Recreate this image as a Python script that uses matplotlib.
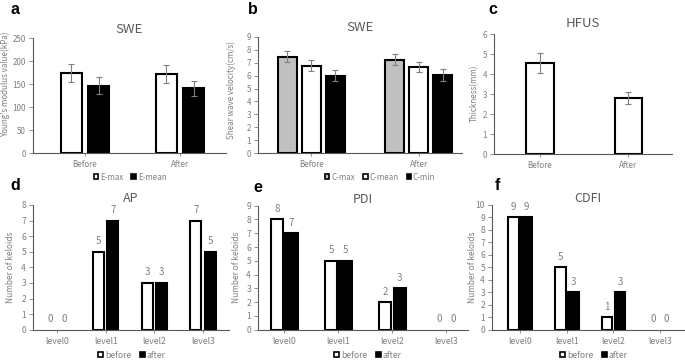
import numpy as np
import matplotlib
matplotlib.use('Agg')
import matplotlib.pyplot as plt
from matplotlib.patches import Patch

plt.rcParams['font.family'] = ['Noto Sans CJK SC', 'DejaVu Sans']

# dati
groups = ['Before', 'After']
e_max = [175, 172]
e_max_err = [20, 19]
e_mean = [147, 141]
e_mean_err = [19, 16]

c_max = [7.45, 7.22]
c_max_err = [0.43, 0.42]
c_mean = [6.76, 6.64]
c_mean_err = [0.44, 0.40]
c_min = [5.98, 6.03]
c_min_err = [0.43, 0.48]

thick = [4.58, 2.81]
thick_err = [0.5, 0.32]

levels = ['level0', 'level1', 'level2', 'level3']
ap_before = [0, 5, 3, 7]
ap_after = [0, 7, 3, 5]
pdi_before = [8, 5, 2, 0]
pdi_after = [7, 5, 3, 0]
cdfi_before = [9, 5, 1, 0]
cdfi_after = [9, 3, 3, 0]

W, H = 685, 362
TXT = '#7f7f7f'
TIT = '#595959'
AX = '#595959'
GRAY = '#c0c0c0'


def rect(l, r, t, b):
    return [l / W, 1 - b / H, (r - l) / W, (b - t) / H]


def style(ax, ymax, ystep, fs):
    ax.set_ylim(0, ymax)
    ax.set_yticks(np.arange(0, ymax + ystep / 2, ystep))
    for s in ['top', 'right']:
        ax.spines[s].set_visible(False)
    for s in ['left', 'bottom']:
        ax.spines[s].set_color(AX)
        ax.spines[s].set_linewidth(0.8)
    ax.tick_params(axis='y', colors=TXT, labelsize=fs, length=3, width=0.6, pad=2)
    ax.tick_params(axis='x', colors=TXT, labelsize=fs, length=2, width=0.6, pad=3)


def ebar(ax, x, y, err):
    ax.errorbar(x, y, yerr=err, fmt='none', ecolor='#808080', elinewidth=0.8,
                capsize=2, capthick=0.8)


def legenda(ax, items, cx, cy, fs, ncol):
    handles = [Patch(facecolor=c, edgecolor='black', linewidth=1.2, label=l) for l, c in items]
    ax.legend(handles=handles, loc='center', bbox_to_anchor=(cx / W, 1 - cy / H),
              bbox_transform=fig.transFigure, ncol=ncol, frameon=False, fontsize=fs,
              labelcolor=TXT, handlelength=0.6, handleheight=0.6, handletextpad=0.2,
              columnspacing=1.0)


fig = plt.figure(figsize=(W / 100, H / 100), dpi=100)
bar_kw = dict(edgecolor='black', linewidth=1.5)

# a
ax = fig.add_axes(rect(33, 226, 38.3, 153.3))
x = np.arange(len(groups))
w = 0.226
ax.bar(x - 0.144, e_max, w, color='white', **bar_kw)
ax.bar(x + 0.144, e_mean, w, color='black', **bar_kw)
ebar(ax, x - 0.144, e_max, e_max_err)
ebar(ax, x + 0.144, e_mean, e_mean_err)
ax.set_xlim(-0.547, 1.484)
ax.set_xticks(x, groups)
style(ax, 250, 50, 5.8)
ax.set_title('SWE', color=TIT, fontsize=9.5, pad=4)
ax.set_ylabel("Young's modulus value(kPa)", color=TXT, fontsize=5.8)
ax.yaxis.set_label_coords((10 - 33) / 193, 0.6)
legenda(ax, [('E-max', 'white'), ('E-mean', 'black')], 130, 177, 5.8, 2)

# b
ax = fig.add_axes(rect(258, 462, 36.7, 153.3))
w = 0.177
ax.bar(x - 0.225, c_max, w, color=GRAY, **bar_kw)
ax.bar(x, c_mean, w, color='white', **bar_kw)
ax.bar(x + 0.225, c_min, w, color='black', **bar_kw)
ebar(ax, x - 0.225, c_max, c_max_err)
ebar(ax, x, c_mean, c_mean_err)
ebar(ax, x + 0.225, c_min, c_min_err)
ax.set_xlim(-0.495, 1.403)
ax.set_xticks(x, groups)
style(ax, 9, 1, 5.8)
ax.set_title('SWE', color=TIT, fontsize=9.5, pad=4)
ax.set_ylabel('Shear wave velocity(cm/s)', color=TXT, fontsize=5.8)
ax.yaxis.set_label_coords((236 - 258) / 204, 0.54)
legenda(ax, [('C-max', GRAY), ('C-mean', 'white'), ('C-min', 'black')], 380, 177, 5.8, 3)

# c
ax = fig.add_axes(rect(494, 672, 34.3, 154))
ax.bar(x, thick, 0.31, color='white', **bar_kw)
ebar(ax, x, thick, thick_err)
ax.set_xlim(-0.52, 1.494)
ax.set_xticks(x, groups)
style(ax, 6, 1, 5.8)
ax.set_title('HFUS', color=TIT, fontsize=9.5, pad=5)
ax.set_ylabel('Thickness(mm)', color=TXT, fontsize=5.8)
ax.yaxis.set_label_coords((479 - 494) / 178, 0.51)

# riga inferiore
bottom = [
    ('AP', ap_before, ap_after, (33, 229, 205, 329.7), (-0.498, 3.535), 8, 0.146, 132, 15),
    ('PDI', pdi_before, pdi_after, (258, 468, 205.7, 329.7), (-0.485, 3.4), 9, 0.135, 368, 241),
    ('CDFI', cdfi_before, cdfi_after, (492, 684, 205, 329.7), (-0.6, 3.51), 10, 0.139, 594, 477),
]
xl = np.arange(len(levels))
for title, bef, aft, r, xlim, ymax, off, legx, lx in bottom:
    ax = fig.add_axes(rect(*r))
    b1 = ax.bar(xl - off, bef, 0.226, color='white', **bar_kw)
    b2 = ax.bar(xl + off, aft, 0.226, color='black', **bar_kw)
    for bb in (b1, b2):
        for p in bb.patches:
            if p.get_height() == 0:
                p.set_linewidth(0)
        ax.bar_label(bb, padding=4, color=TXT, fontsize=7)
    ax.set_xlim(*xlim)
    ax.set_xticks(xl, levels)
    style(ax, ymax, 1, 6.2)
    ax.set_title(title, color=TIT, fontsize=9, pad=-2)
    ax.set_ylabel('Number of keloids', color=TXT, fontsize=6)
    ax.yaxis.set_label_coords((lx - r[0]) / (r[1] - r[0]), 0.5)
    legenda(ax, [('before', 'white'), ('after', 'black')], legx, 355, 6.2, 2)

# lettere dei pannelli
for lab, px, py in [('a', 15, 10), ('b', 253, 9), ('c', 493, 9),
                    ('d', 15, 186), ('e', 258, 188), ('f', 497, 186)]:
    fig.text(px / W, 1 - py / H, lab, fontsize=11.5, fontweight='bold', color='black',
             family=['Liberation Sans', 'DejaVu Sans'], ha='center', va='center')

fig.savefig('out.png', dpi=100)
